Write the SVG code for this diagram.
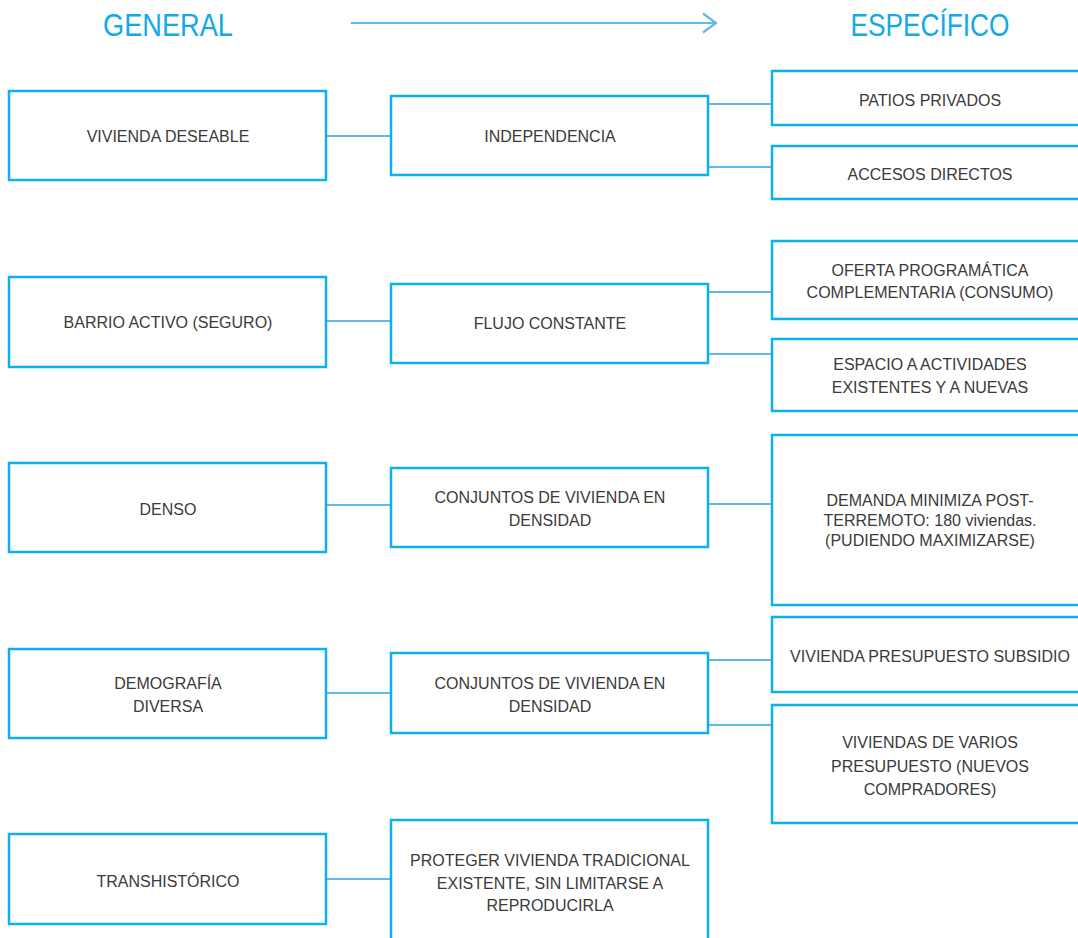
<svg xmlns="http://www.w3.org/2000/svg" width="1078" height="938" viewBox="0 0 1078 938">
<style>
  .box { fill: #ffffff; stroke: #0EAFEE; stroke-width: 2.5; }
  .conn { stroke: #62B8E7; stroke-width: 2.2; fill: none; }
  .t { font-family: "Liberation Sans", Arial, sans-serif; font-size: 16px; fill: #3a3a3a; text-anchor: middle; }
  .h { font-family: "Liberation Sans", Arial, sans-serif; font-size: 31px; fill: #12A9E8; text-anchor: middle; }
</style>
<rect width="1078" height="938" fill="#ffffff"/>

<g id="headers">
  <text class="h" x="168" y="36" textLength="130" lengthAdjust="spacingAndGlyphs">GENERAL</text>
  <text class="h" x="930" y="36" textLength="159" lengthAdjust="spacingAndGlyphs">ESPECÍFICO</text>
</g>

<g id="connectors">
  <line class="conn" x1="351" y1="23" x2="715" y2="23"/>
  <polyline class="conn" points="703,13.5 716,23 703,32.5"/>
  <line class="conn" x1="326" y1="136" x2="391" y2="136"/>
  <line class="conn" x1="708" y1="104" x2="772" y2="104"/>
  <line class="conn" x1="708" y1="167" x2="772" y2="167"/>
  <line class="conn" x1="326" y1="321" x2="391" y2="321"/>
  <line class="conn" x1="708" y1="292" x2="772" y2="292"/>
  <line class="conn" x1="708" y1="354" x2="772" y2="354"/>
  <line class="conn" x1="326" y1="505" x2="391" y2="505"/>
  <line class="conn" x1="708" y1="504" x2="772" y2="504"/>
  <line class="conn" x1="326" y1="693" x2="391" y2="693"/>
  <line class="conn" x1="708" y1="660" x2="772" y2="660"/>
  <line class="conn" x1="708" y1="725" x2="772" y2="725"/>
  <line class="conn" x1="326" y1="879" x2="391" y2="879"/>
</g>

<g id="vivienda-deseable">
  <rect class="box" x="9" y="91" width="317" height="89"/>
  <text class="t" x="168" y="142">VIVIENDA DESEABLE</text>
</g>
<g id="independencia">
  <rect class="box" x="391" y="96" width="317" height="79"/>
  <text class="t" x="550" y="142">INDEPENDENCIA</text>
</g>
<g id="patios-privados">
  <rect class="box" x="772" y="71" width="320" height="54"/>
  <text class="t" x="930" y="106">PATIOS PRIVADOS</text>
</g>
<g id="accesos-directos">
  <rect class="box" x="772" y="146" width="320" height="53"/>
  <text class="t" x="930" y="180">ACCESOS DIRECTOS</text>
</g>

<g id="barrio-activo">
  <rect class="box" x="9" y="277" width="317" height="90"/>
  <text class="t" x="168" y="328">BARRIO ACTIVO (SEGURO)</text>
</g>
<g id="flujo-constante">
  <rect class="box" x="391" y="284" width="317" height="79"/>
  <text class="t" x="550" y="329">FLUJO CONSTANTE</text>
</g>
<g id="oferta-programatica">
  <rect class="box" x="772" y="241" width="320" height="78"/>
  <text class="t" x="930" y="276">OFERTA PROGRAMÁTICA</text>
  <text class="t" x="930" y="298">COMPLEMENTARIA (CONSUMO)</text>
</g>
<g id="espacio-actividades">
  <rect class="box" x="772" y="339" width="320" height="72"/>
  <text class="t" x="930" y="370">ESPACIO A ACTIVIDADES</text>
  <text class="t" x="930" y="393">EXISTENTES Y A NUEVAS</text>
</g>

<g id="denso">
  <rect class="box" x="9" y="463" width="317" height="89"/>
  <text class="t" x="168" y="515">DENSO</text>
</g>
<g id="conjuntos-1">
  <rect class="box" x="391" y="468" width="317" height="79"/>
  <text class="t" x="550" y="503">CONJUNTOS DE VIVIENDA EN</text>
  <text class="t" x="550" y="526">DENSIDAD</text>
</g>
<g id="demanda">
  <rect class="box" x="772" y="435" width="320" height="170"/>
  <text class="t" x="930" y="506">DEMANDA MINIMIZA POST-</text>
  <text class="t" x="930" y="526">TERREMOTO: 180 viviendas.</text>
  <text class="t" x="930" y="546">(PUDIENDO MAXIMIZARSE)</text>
</g>

<g id="demografia-diversa">
  <rect class="box" x="9" y="649" width="317" height="89"/>
  <text class="t" x="168" y="689">DEMOGRAFÍA</text>
  <text class="t" x="168" y="712">DIVERSA</text>
</g>
<g id="conjuntos-2">
  <rect class="box" x="391" y="653" width="317" height="80"/>
  <text class="t" x="550" y="689">CONJUNTOS DE VIVIENDA EN</text>
  <text class="t" x="550" y="712">DENSIDAD</text>
</g>
<g id="vivienda-subsidio">
  <rect class="box" x="772" y="617" width="320" height="75"/>
  <text class="t" x="930" y="662">VIVIENDA PRESUPUESTO SUBSIDIO</text>
</g>
<g id="viviendas-varios">
  <rect class="box" x="772" y="705" width="320" height="118"/>
  <text class="t" x="930" y="748">VIVIENDAS DE VARIOS</text>
  <text class="t" x="930" y="772">PRESUPUESTO (NUEVOS</text>
  <text class="t" x="930" y="795">COMPRADORES)</text>
</g>

<g id="transhistorico">
  <rect class="box" x="9" y="834" width="317" height="90"/>
  <text class="t" x="168" y="887">TRANSHISTÓRICO</text>
</g>
<g id="proteger-vivienda">
  <rect class="box" x="391" y="820" width="317" height="140"/>
  <text class="t" x="550" y="866">PROTEGER VIVIENDA TRADICIONAL</text>
  <text class="t" x="550" y="889">EXISTENTE, SIN LIMITARSE A</text>
  <text class="t" x="550" y="911">REPRODUCIRLA</text>
</g>
</svg>
